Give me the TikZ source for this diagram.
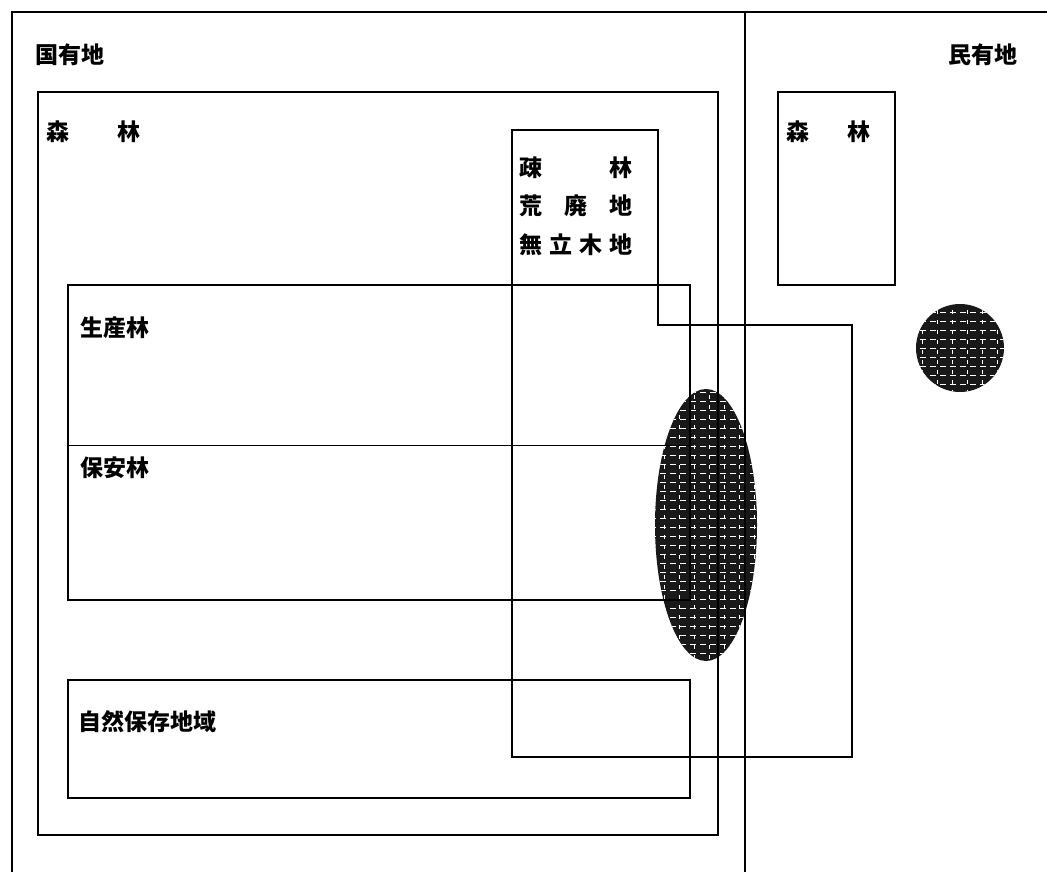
\documentclass[tikz,border=0pt]{standalone}
\usepackage{fontspec}
\newfontfamily\jp{Noto Sans CJK JP}
\begin{document}
\begin{tikzpicture}[x=1pt,y=-1pt,
  box/.style={draw=black,line width=1.8pt},
  frame/.style={draw=black,line width=1.3pt},
  lbl/.style={anchor=west,inner sep=0pt,font=\jp\bfseries\fontsize{23}{23}\selectfont}]
\useasboundingbox (0,0) rectangle (1047,872);
\fill[white] (0,0) rectangle (1047,872);
% textured blobs
\begin{scope}
  \clip (706,525) ellipse (51 and 136);
  \fill[black!90] (650,385) rectangle (762,665);
  \foreach \y in {392,401,...,660} \draw[white,line width=1pt,dash pattern=on 6pt off 4pt] (650,\y) -- (762,\y);
  \foreach \x in {664,679,...,758} \draw[white,line width=0.8pt,dash pattern=on 4pt off 6pt] (\x,385) -- (\x,665);
\end{scope}
\begin{scope}
  \clip (960,348) circle (44);
  \fill[black!90] (910,300) rectangle (1010,400);
  \foreach \y in {312,321,...,392} \draw[white,line width=1pt,dash pattern=on 6pt off 4pt] (910,\y) -- (1010,\y);
  \foreach \x in {922,937,...,1000} \draw[white,line width=0.8pt,dash pattern=on 4pt off 6pt] (\x,300) -- (\x,400);
\end{scope}
% outer frame and divider
\coordinate (tl) at (12,12);
\coordinate (tr) at (1047,12);
\coordinate (bl) at (12,872);
\coordinate (dt) at (745,12);
\coordinate (db) at (745,872);
\draw[frame] (tr) -- (tl) -- (bl);
\draw[frame] (dt) -- (db);
% national forest
\draw[box] (38,92) rectangle (718,835);
% production / protection forests
\draw[box] (68,285) rectangle (690,600);
\draw[line width=1pt] (68,445) -- (690,445);
% nature reserve
\draw[box] (68,680) rectangle (690,798);
% sparse forest etc.
\draw[box] (512,130) -- (658,130) -- (658,325) -- (852,325) -- (852,757) -- (512,757) -- cycle;
% private forest
\draw[box] (778,92) rectangle (895,285);
% labels
\node[lbl] (kokuyu) at (35,55) {国有地};
\node[lbl] (minyu) at (948,55) {民有地};
\node[lbl] (shinrin1) at (46,132) {\hbox to 94pt{森\hfil 林}};
\node[lbl] (shinrin2) at (786,132) {\hbox to 84pt{森\hfil 林}};
\node[lbl] (sorin) at (519,168) {\hbox to 113pt{疎\hfil 林}};
\node[lbl] (kohai) at (519,206) {\hbox to 113pt{荒\hfil 廃\hfil 地}};
\node[lbl] (muryu) at (519,245) {\hbox to 113pt{無\hfil 立\hfil 木\hfil 地}};
\node[lbl] (seisan) at (80,328) {生産林};
\node[lbl] (hoan) at (80,468) {保安林};
\node[lbl] (shizen) at (78,722) {自然保存地域};
\end{tikzpicture}
\end{document}
